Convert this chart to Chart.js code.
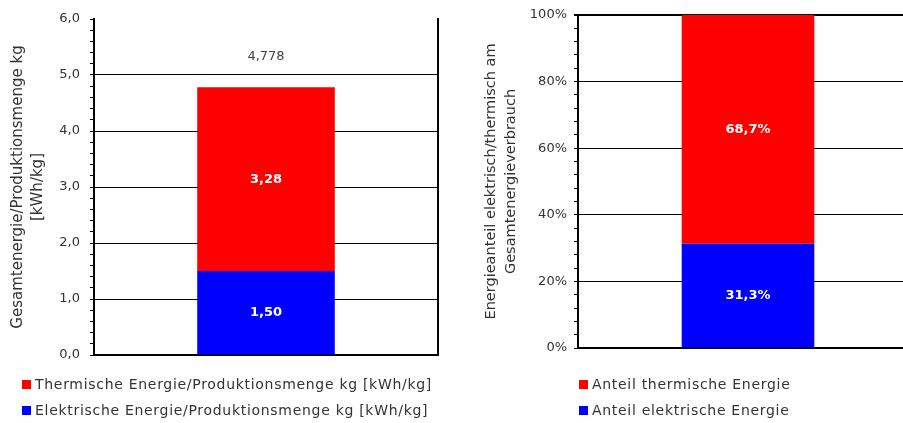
<!DOCTYPE html>
<html>
<head>
<meta charset="utf-8">
<script src="https://cdn.jsdelivr.net/npm/chart.js@4/dist/chart.umd.min.js"></script>
<style>
  html, body { margin: 0; padding: 0; background: #fff; overflow: hidden; width: 903px; height: 423px; }
  #wrap { position: relative; width: 903px; height: 423px; overflow: hidden; }
  .box { position: absolute; top: 0; height: 423px; }
  .legend { position: absolute; font-family: 'DejaVu Sans', sans-serif; font-size: 14px; letter-spacing: 0.7px; color: #333; }
  .legend div { display: flex; align-items: center; height: 26px; white-space: nowrap; }
  .legend span.sw { display: inline-block; width: 9px; height: 9px; margin-right: 4px; }
</style>
</head>
<body>
<div id="wrap">
  <div class="box" style="left:0;width:455px"><canvas id="energyChart" width="455" height="423"></canvas></div>
  <div class="box" style="left:455px;width:478px"><canvas id="shareChart" width="478" height="423"></canvas></div>
  <div class="legend" id="legendLeft" style="left:22px;top:371px"></div>
  <div class="legend" id="legendRight" style="left:579px;top:371px"></div>
</div>
<script>
// data
const categories = ['Produktion'];
const elecKwh = [1.50];
const thermKwh = [3.28];
const totalKwh = [4.778];
const elecShare = [31.3];
const thermShare = [68.7];

const yTicksKwh = [0, 1, 2, 3, 4, 5, 6];
const yTicksShare = [0, 20, 40, 60, 80, 100];

const labelElecKwh = 'Elektrische Energie/Produktionsmenge kg [kWh/kg]';
const labelThermKwh = 'Thermische Energie/Produktionsmenge kg [kWh/kg]';
const labelElecShare = 'Anteil elektrische Energie';
const labelThermShare = 'Anteil thermische Energie';

const RED = '#ff0000';
const BLUE = '#0000ff';
const FONT = 'DejaVu Sans';

const comma = (v, d) => v.toFixed(d).replace('.', ',');
const near = (v, list) => list.some(t => Math.abs(v - t) < 1e-6);

// white labels in the middle of each segment, optional total above the stack
const barLabels = {
  id: 'barLabels',
  afterDatasetsDraw(chart, args, opts) {
    const ctx = chart.ctx;
    ctx.save();
    ctx.textAlign = 'center';
    ctx.textBaseline = 'middle';
    chart.data.datasets.forEach((ds, i) => {
      const meta = chart.getDatasetMeta(i);
      meta.data.forEach((bar, j) => {
        const p = bar.getProps(['x', 'y', 'base'], true);
        ctx.fillStyle = '#fff';
        ctx.font = 'bold 13px "' + FONT + '"';
        ctx.fillText(opts.format(ds.data[j]), p.x, (p.y + p.base) / 2);
      });
    });
    if (opts.totals) {
      const last = chart.getDatasetMeta(chart.data.datasets.length - 1);
      last.data.forEach((bar, j) => {
        const p = bar.getProps(['x', 'y'], true);
        ctx.fillStyle = '#444';
        ctx.font = '13px "' + FONT + '"';
        ctx.fillText(comma(opts.totals[j], 3), p.x, p.y - 31);
      });
    }
    ctx.restore();
  }
};

function legendHtml(el, items) {
  el.innerHTML = items.map(it =>
    '<div><span class="sw" style="background:' + it.color + '"></span>' + it.text + '</div>').join('');
}

function frameScale() {
  return {
    position: 'right',
    display: true,
    ticks: { display: false },
    grid: { drawOnChartArea: false, drawTicks: false },
    border: { color: '#000', width: 2 },
    afterFit: s => { s.width = 0; }
  };
}

new Chart(document.getElementById('energyChart'), {
  type: 'bar',
  data: {
    labels: categories,
    datasets: [
      { label: labelElecKwh, data: elecKwh, backgroundColor: BLUE, borderWidth: 0, barPercentage: 0.4, categoryPercentage: 1 },
      { label: labelThermKwh, data: thermKwh, backgroundColor: RED, borderWidth: 0, barPercentage: 0.4, categoryPercentage: 1 }
    ]
  },
  options: {
    responsive: false,
    animation: false,
    layout: { padding: { left: 0, top: 19, right: 17, bottom: 68 } },
    plugins: {
      legend: { display: false },
      tooltip: { enabled: false },
      barLabels: { format: v => comma(v, 2), totals: totalKwh }
    },
    scales: {
      x: {
        stacked: true,
        ticks: { display: false },
        grid: { display: false, drawTicks: false },
        border: { color: '#000', width: 2 },
        afterFit: s => { s.height = 0; }
      },
      y: {
        stacked: true,
        min: 0, max: 6,
        ticks: {
          stepSize: 0.2, autoSkip: false, padding: 10, color: '#333',
          font: { family: FONT, size: 13 },
          callback: v => near(v, yTicksKwh) ? comma(v, 1) : ''
        },
        grid: {
          color: c => (near(c.tick.value, yTicksKwh) && c.tick.value > 0 && c.tick.value < 6) ? '#000' : 'rgba(0,0,0,0)',
          tickColor: '#000', tickLength: 4, lineWidth: 1
        },
        border: { color: '#000', width: 2 },
        title: {
          display: true,
          text: ['Gesamtenergie/Produktionsmenge kg', '[kWh/kg]'],
          color: '#333',
          font: { family: FONT, size: 15, lineHeight: 1.34 },
          padding: { top: 8, bottom: 0 }
        },
        afterFit: s => { s.width = 94; }
      },
      frame: frameScale()
    }
  },
  plugins: [barLabels]
});

new Chart(document.getElementById('shareChart'), {
  type: 'bar',
  data: {
    labels: categories,
    datasets: [
      { label: labelElecShare, data: elecShare, backgroundColor: BLUE, borderWidth: 0, barPercentage: 0.39, categoryPercentage: 1 },
      { label: labelThermShare, data: thermShare, backgroundColor: RED, borderWidth: 0, barPercentage: 0.39, categoryPercentage: 1 }
    ]
  },
  options: {
    responsive: false,
    animation: false,
    layout: { padding: { left: 0, top: 15, right: 15, bottom: 75 } },
    plugins: {
      legend: { display: false },
      tooltip: { enabled: false },
      barLabels: { format: v => comma(v, 1) + '%' }
    },
    scales: {
      x: {
        stacked: true,
        ticks: { display: false },
        grid: { display: false, drawTicks: false },
        border: { color: '#000', width: 2 },
        afterFit: s => { s.height = 0; }
      },
      y: {
        stacked: true,
        min: 0, max: 100,
        ticks: {
          stepSize: 4, autoSkip: false, padding: 7, color: '#333',
          font: { family: FONT, size: 13 },
          callback: v => near(v, yTicksShare) ? v + '%' : ''
        },
        grid: {
          color: c => (near(c.tick.value, yTicksShare) && c.tick.value > 0) ? '#000' : 'rgba(0,0,0,0)',
          lineWidth: c => c.tick.value === 100 ? 2 : 1,
          tickColor: '#000', tickLength: 4
        },
        border: { color: '#000', width: 2 },
        title: {
          display: true,
          text: ['Energieanteil elektrisch/thermisch am', 'Gesamtenergieverbrauch'],
          color: '#333',
          font: { family: FONT, size: 14.5, lineHeight: 1.38 },
          padding: { top: 26, bottom: 0 }
        },
        afterFit: s => { s.width = 123; }
      }
    }
  },
  plugins: [barLabels]
});

legendHtml(document.getElementById('legendLeft'), [
  { color: RED, text: labelThermKwh },
  { color: BLUE, text: labelElecKwh }
]);
legendHtml(document.getElementById('legendRight'), [
  { color: RED, text: labelThermShare },
  { color: BLUE, text: labelElecShare }
]);
</script>
</body>
</html>
